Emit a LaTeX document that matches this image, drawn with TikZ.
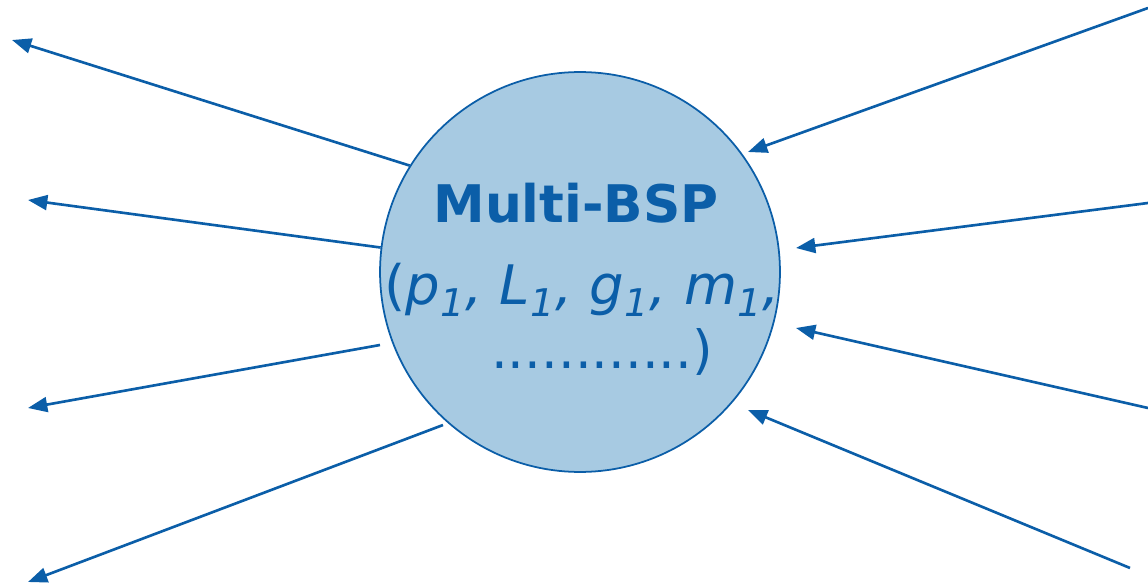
\documentclass[tikz,border=0pt]{standalone}
\usepackage{fontspec}
\setmainfont{DejaVu Sans}
\usepackage{tikz}
\usetikzlibrary{arrows.meta}

\definecolor{bspblue}{RGB}{11,94,168}
\definecolor{bspfill}{RGB}{167,202,226}
\newcommand{\idx}[1]{\textsubscript{#1}}

\begin{document}
\begin{tikzpicture}[x=0.02cm,y=-0.02cm,
  link/.style={draw=bspblue,line width=1.5pt,-{Triangle[length=11pt,width=8.5pt]}},
  core/.style={circle,draw=bspblue,line width=1pt,fill=bspfill,minimum size=8cm,inner sep=0pt},
  label text/.style={text=bspblue,inner sep=0pt}]
\useasboundingbox (0,0) rectangle (1148,587);

\node[core] (bsp) at (580,272) {};
\node[label text,anchor=base,font=\bfseries\fontsize{29.5}{34}\selectfont] (title) at (576,223) {Multi-BSP};
\node[label text,anchor=base,font=\fontsize{31}{36}\selectfont] (params) at (582,304)
  {(\textit{p\idx{1}, L\idx{1}, g\idx{1}, m\idx{1},}};
\node[label text,anchor=base,font=\fontsize{30}{36}\selectfont] (rest) at (602,368) {............)};

% outgoing links on the left
\coordinate (out1) at (12,40);
\coordinate (out2) at (28,200);
\coordinate (out3) at (28,408);
\coordinate (out4) at (28,582);
\coordinate (from3) at (380,345);
\coordinate (from4) at (443,425);

% incoming links on the right
\coordinate (in1) at (1148,8);
\coordinate (in2) at (1148,203);
\coordinate (in3) at (1148,408);
\coordinate (in4) at (1130,568);
\coordinate (to1) at (748,152);
\coordinate (to2) at (796,248);
\coordinate (to3) at (796,328);
\coordinate (to4) at (748,410);

\draw[link] (bsp.148) -- (out1);
\draw[link] (bsp.173) -- (out2);
\draw[link] (from3) -- (out3);
\draw[link] (from4) -- (out4);

\draw[link] (in1) -- (to1);
\draw[link] (in2) -- (to2);
\draw[link] (in3) -- (to3);
\draw[link] (in4) -- (to4);

\end{tikzpicture}
\end{document}
